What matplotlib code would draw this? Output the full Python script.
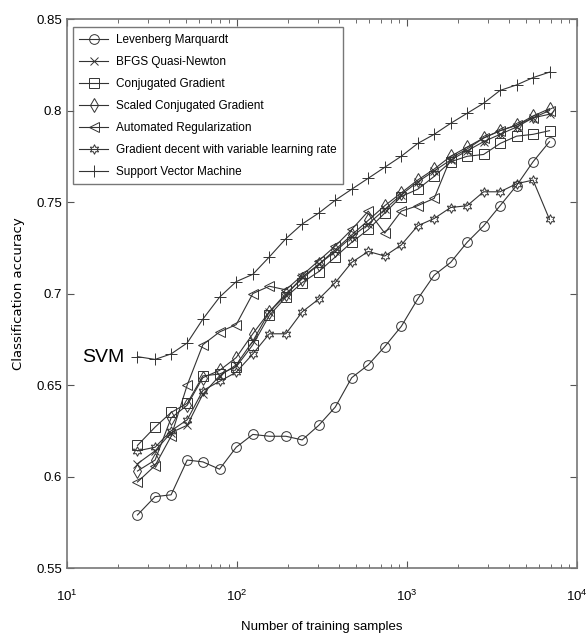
import numpy as np
import matplotlib
matplotlib.use("Agg")
import matplotlib.pyplot as plt
from matplotlib.ticker import LogLocator, FixedLocator

plt.rcParams["font.family"] = ["Liberation Sans", "DejaVu Sans"]

# training set sizes (same for every method)
samples = [26, 33, 41, 51, 63, 79, 99, 124, 155, 194, 242, 303, 379, 473,
           592, 740, 925, 1156, 1445, 1806, 2258, 2822, 3528, 4410, 5512, 6890]

lm = [0.579, 0.589, 0.590, 0.609, 0.608, 0.604, 0.616, 0.623, 0.622, 0.622,
      0.620, 0.628, 0.638, 0.654, 0.661, 0.671, 0.682, 0.697, 0.710, 0.717,
      0.728, 0.737, 0.748, 0.759, 0.772, 0.783]
bfgs = [0.607, 0.614, 0.624, 0.628, 0.645, 0.655, 0.661, 0.674, 0.690, 0.699,
        0.709, 0.716, 0.723, 0.731, 0.738, 0.746, 0.754, 0.761, 0.767, 0.773,
        0.778, 0.783, 0.787, 0.791, 0.796, 0.798]
cg = [0.617, 0.627, 0.635, 0.640, 0.655, 0.656, 0.660, 0.672, 0.688, 0.698,
      0.706, 0.712, 0.720, 0.728, 0.735, 0.744, 0.753, 0.757, 0.764, 0.772,
      0.775, 0.776, 0.782, 0.786, 0.787, 0.789]
scg = [0.603, 0.609, 0.632, 0.639, 0.654, 0.658, 0.665, 0.678, 0.690, 0.700,
       0.708, 0.716, 0.724, 0.732, 0.740, 0.748, 0.755, 0.762, 0.768, 0.775,
       0.780, 0.785, 0.789, 0.792, 0.797, 0.801]
ar = [0.597, 0.606, 0.622, 0.650, 0.672, 0.679, 0.683, 0.700, 0.704, 0.702,
      0.710, 0.718, 0.726, 0.735, 0.745, 0.733, 0.745, 0.748, 0.752, 0.774,
      0.779, 0.785, 0.789, 0.792, 0.796, 0.800]
gd = [0.614, 0.616, 0.625, 0.631, 0.647, 0.652, 0.657, 0.667, 0.678, 0.678,
      0.690, 0.697, 0.706, 0.717, 0.723, 0.7205, 0.7265, 0.737, 0.741, 0.747,
      0.748, 0.7556, 0.7556, 0.760, 0.762, 0.7405]
svm = [0.6655, 0.664, 0.667, 0.673, 0.686, 0.698, 0.7065, 0.7105, 0.720, 0.730,
       0.738, 0.744, 0.751, 0.757, 0.763, 0.769, 0.775, 0.782, 0.787, 0.793,
       0.7985, 0.804, 0.811, 0.814, 0.818, 0.821]

names = ["Levenberg Marquardt", "BFGS Quasi-Newton", "Conjugated Gradient",
         "Scaled Conjugated Gradient", "Automated Regularization",
         "Gradient decent with variable learning rate", "Support Vector Machine"]

fig = plt.figure(figsize=(5.87, 6.35), dpi=100)
ax = fig.add_axes([0.114, 0.1055, 0.869, 0.8645])

lc = "#333333"
style = dict(color=lc, lw=0.8, markerfacecolor="none", markeredgecolor=lc, markeredgewidth=0.7)
ax.semilogx(samples, lm, marker="o", ms=7, label=names[0], **style)
ax.semilogx(samples, bfgs, marker="x", ms=6, label=names[1], **style)
ax.semilogx(samples, cg, marker="s", ms=6.5, label=names[2], **style)
ax.semilogx(samples, scg, marker="d", ms=7, label=names[3], **style)
ax.semilogx(samples, ar, marker="<", ms=7, label=names[4], **style)
ax.semilogx(samples, gd, marker=(6, 1, 0), ms=7, label=names[5], **style)
ax.semilogx(samples, svm, marker="+", ms=9, label=names[6], **style)

ax.set_xlim(10, 1e4)
ax.set_ylim(0.55, 0.85)
ax.yaxis.set_major_locator(FixedLocator([0.55, 0.6, 0.65, 0.7, 0.75, 0.8, 0.85]))
ax.set_yticklabels(["0.55", "0.6", "0.65", "0.7", "0.75", "0.8", "0.85"])
ax.xaxis.set_major_locator(LogLocator(base=10))
ax.xaxis.set_minor_locator(LogLocator(base=10, subs=np.arange(2, 10)))
ax.tick_params(which="both", direction="in", top=True, right=True, color="#555555")
ax.tick_params(which="major", length=5, labelsize=9.5)
ax.tick_params(axis="x", which="major", pad=15)
ax.tick_params(which="minor", length=3)
for s in ax.spines.values():
    s.set_color("#777777")
    s.set_linewidth(1.2)

ax.set_xlabel("Number of training samples", fontsize=9.5, labelpad=12)
ax.set_ylabel("Classification accuracy", fontsize=9.5, family="DejaVu Sans", labelpad=8)

ax.text(12.3, 0.665, "SVM", fontsize=14, va="center")

leg = ax.legend(loc="upper left", bbox_to_anchor=(0.0118, 0.985), borderaxespad=0,
                fontsize=8.5, frameon=True, fancybox=False, borderpad=0.55,
                handlelength=2.4, labelspacing=0.85, handletextpad=0.7)
leg.get_frame().set_edgecolor("#555555")
leg.get_frame().set_linewidth(1.0)

fig.savefig("out.png", dpi=100)
